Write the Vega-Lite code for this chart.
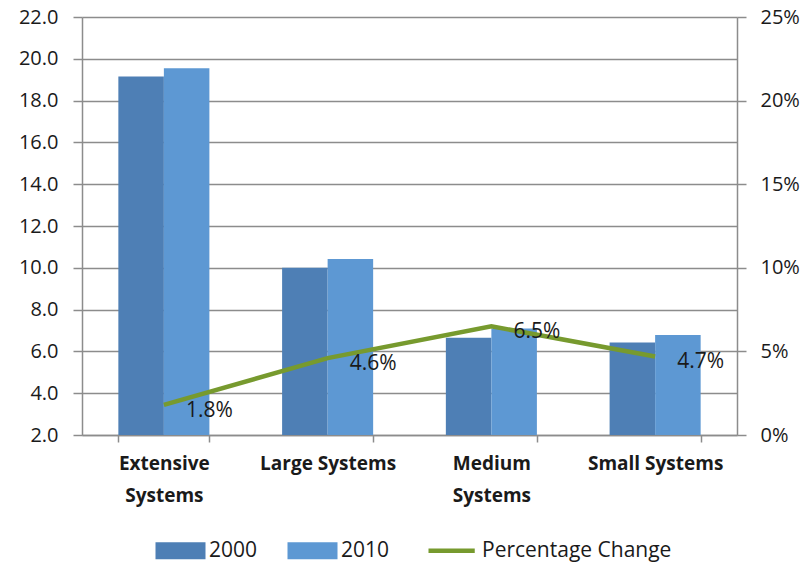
{
  "$schema": "https://vega.github.io/schema/vega-lite/v6.json",
  "autosize": {"type": "none"},
  "width": 655,
  "height": 418,
  "padding": {"left": 82, "top": 17, "right": 69, "bottom": 134},
  "background": "white",
  "config": {
    "view": {"stroke": null},
    "font": "Open Sans",
    "axis": {"labelFont": "Open Sans", "labelColor": "#1a1a1a", "domainColor": "#8c8c8c", "tickColor": "#8c8c8c", "gridColor": "#8c8c8c"}
  },
  "datasets": {
    "bars": [
      {"category": "Extensive Systems", "year": "2000", "value": 19.15},
      {"category": "Extensive Systems", "year": "2010", "value": 19.55},
      {"category": "Large Systems", "year": "2000", "value": 10.0},
      {"category": "Large Systems", "year": "2010", "value": 10.42},
      {"category": "Medium Systems", "year": "2000", "value": 6.65},
      {"category": "Medium Systems", "year": "2010", "value": 7.1},
      {"category": "Small Systems", "year": "2000", "value": 6.42},
      {"category": "Small Systems", "year": "2010", "value": 6.78}
    ],
    "change": [
      {"category": "Extensive Systems", "pct": 0.018},
      {"category": "Large Systems", "pct": 0.046},
      {"category": "Medium Systems", "pct": 0.065},
      {"category": "Small Systems", "pct": 0.047}
    ]
  },
  "encoding": {
    "x": {
      "field": "category",
      "type": "nominal",
      "sort": null,
      "scale": {"paddingInner": 0.444, "paddingOuter": 0.222},
      "axis": {
        "title": null,
        "labelAngle": 0,
        "tickBand": "extent",
        "tickSize": 7,
        "domainWidth": 1.5,
        "tickWidth": 1.5,
        "labelFontSize": 19,
        "labelFontWeight": "bold",
        "labelPadding": 12,
        "labelLineHeight": 32,
        "labelBaseline": "top",
        "labelExpr": "datum.label == 'Extensive Systems' ? ['Extensive', 'Systems'] : datum.label == 'Medium Systems' ? ['Medium', 'Systems'] : datum.label"
      }
    }
  },
  "layer": [
    {
      "data": {"name": "bars"},
      "mark": {"type": "bar"},
      "encoding": {
        "xOffset": {"field": "year", "type": "nominal", "scale": {"paddingInner": 0, "paddingOuter": 0}},
        "y": {
          "field": "value",
          "type": "quantitative",
          "scale": {"domain": [2, 22], "zero": false, "nice": false},
          "axis": {
            "title": null,
            "values": [2, 4, 6, 8, 10, 12, 14, 16, 18, 20, 22],
            "format": ".1f",
            "grid": true,
            "gridWidth": 1.5,
            "domainWidth": 1.5,
            "tickWidth": 1.5,
            "tickSize": 9,
            "labelFontSize": 20,
            "labelPadding": 15
          }
        },
        "y2": {"datum": 2},
        "color": {
          "field": "year",
          "type": "nominal",
          "scale": {"domain": ["2000", "2010", "Percentage Change"], "range": ["#4E7FB5", "#5D98D3", "#779A2E"]},
          "legend": {
            "orient": "none",
            "legendX": 88,
            "legendY": 523,
            "direction": "horizontal",
            "title": null,
            "symbolSize": 2500,
            "labelFont": "Open Sans",
            "labelFontSize": 21,
            "labelColor": "#1a1a1a",
            "labelLimit": 400,
            "labelOffset": 18,
            "columnPadding": 29,
            "encode": {
              "symbols": {
                "update": {
                  "shape": {"signal": "datum.value === 'Percentage Change' ? 'M-1,0H0.85' : 'M-1,-0.34H1V0.34H-1Z'"},
                  "fill": {"signal": "datum.value === '2000' ? '#4E7FB5' : datum.value === '2010' ? '#5D98D3' : 'transparent'"},
                  "stroke": {"signal": "datum.value === 'Percentage Change' ? '#779A2E' : 'transparent'"},
                  "strokeWidth": {"signal": "datum.value === 'Percentage Change' ? 4.5 : 0"}
                }
              }
            }
          }
        }
      }
    },
    {
      "data": {"name": "change"},
      "layer": [
        {
          "mark": {"type": "line", "strokeWidth": 4.5, "color": "#779A2E"},
          "encoding": {
            "y": {
              "field": "pct",
              "type": "quantitative",
              "scale": {"domain": [0, 0.25], "nice": false},
              "axis": {
                "orient": "right",
                "title": null,
                "values": [0, 0.05, 0.1, 0.15, 0.2, 0.25],
                "format": ".0%",
                "grid": false,
                "domainWidth": 1.5,
                "tickWidth": 1.5,
                "tickSize": 9,
                "labelFontSize": 20,
                "labelPadding": 14
              }
            },
            "color": {"datum": "Percentage Change", "type": "nominal"}
          }
        },
        {
          "mark": {"type": "text", "align": "left", "baseline": "middle", "dx": 22, "dy": 6, "fontSize": 21, "font": "Open Sans", "color": "#1a1a1a"},
          "encoding": {
            "y": {"field": "pct", "type": "quantitative"},
            "text": {"field": "pct", "type": "quantitative", "format": ".1%"}
          }
        }
      ]
    }
  ],
  "resolve": {"scale": {"y": "independent"}}
}
